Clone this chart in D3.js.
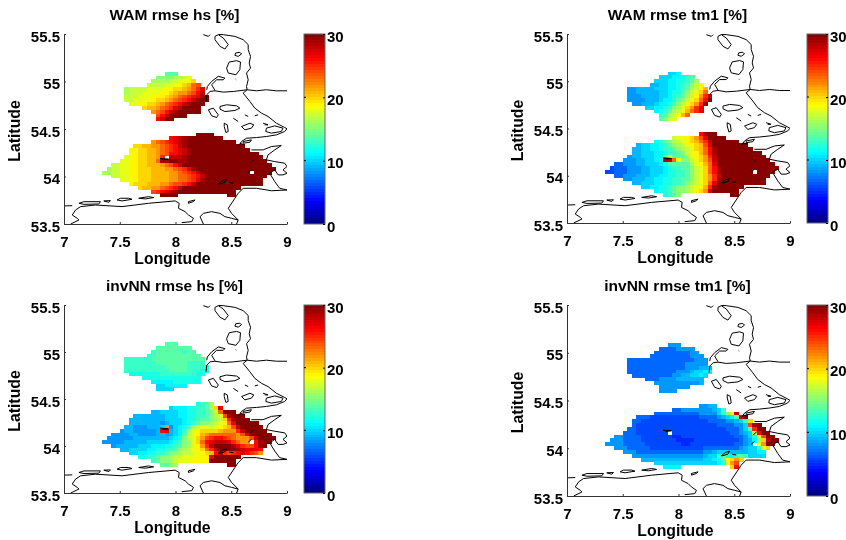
<!DOCTYPE html>
<html>
<head>
<meta charset="utf-8">
<script src="https://cdn.jsdelivr.net/npm/d3@7"></script>
<style>
  html, body { margin: 0; background: #fff; }
  svg { display: block; filter: blur(0.5px); }
  text { font-family: "Liberation Sans", Arial, sans-serif; font-weight: bold; fill: #000; }
</style>
</head>
<body>
<svg width="846" height="540"></svg>
<script>
const xTicks = [7, 7.5, 8, 8.5, 9];
const yTicks = [53.5, 54, 54.5, 55, 55.5];
const barTicks = [0, 10, 20, 30];

// grid of the wave model, degrees
const lonStart = 7.342;
const cellDeg = 0.04;
const southTop = 54.463;
const northTop = 55.103;

// first column of each row
const southStart = [21, 15, 11, 7, 6, 6, 5, 4, 2, 1, 0, 2, 4, 6, 8, 11, 13];
const northStart = [14, 12, 11, 10, 5, 5, 5, 5, 6, 9, 11, 12, 12];

// rmse in percent
const wamHsSouth = [
  [30,30,30,30],
  [26,27,28,29,30,30,30,30,30,30,30,30],
  [22,23,24,25,26,27,28,29,30,30,30,30,30,30,30,30,30,30,30],
  [20,20,21,21,22,22,23,24,25,26,28,29,30,30,30,30,30,30,30,30,30,30,30,30,30],
  [19,19,20,20,21,21,22,23,24,25,26,27,28,29,30,30,30,30,30,30,30,30,30,30,30,30,30],
  [19,19,20,20,21,21,22,23,24,26,26,27,28,29,30,30,30,30,30,30,30,30,30,30,30,30,30,30,30],
  [18,19,19,20,20,21,21,22,25,null,28,28,28,29,30,30,30,30,30,30,30,30,30,30,30,30,30,30,30,30,30],
  [18,18,19,19,20,20,21,21,23,29,29,30,30,29,29,30,30,30,30,30,30,30,30,30,30,30,30,30,30,30,30,30,30],
  [17,17,18,18,19,19,20,20,21,21,21,22,23,24,26,28,30,30,30,30,30,30,30,30,30,30,30,30,30,30,30,30,30,30,30,30],
  [16,17,17,18,18,19,19,20,20,20,21,21,21,22,22,23,24,25,27,29,30,30,30,30,30,30,30,30,30,30,30,30,30,30,30,30,30,30],
  [16,16,17,17,18,18,19,19,20,20,20,21,21,21,21,22,22,23,24,25,26,28,30,30,30,30,30,30,30,30,30,30,30,null,30,30,30,30],
  [17,17,18,18,19,19,20,20,20,21,21,21,21,22,22,23,23,24,25,26,28,30,30,30,30,30,30,30,30,30,30,30,30,30,30],
  [18,18,19,19,20,20,20,21,21,21,21,22,22,23,23,24,25,27,29,30,30,30,30,30,30,30,30,30,30,30,30,30],
  [19,20,20,20,21,21,21,22,22,23,24,24,25,26,28,30,30,30,30,30,30,30,30,30,30,30,30,30,30,30],
  [20,21,21,22,22,23,24,25,26,28,30,30,30,30,30,30,30,30,30,30,30,30,30],
  [24,25,26,27,28,29,30,30,30,30,30,30,30,30,30,30,30,30,30],
  [30,30,30,30,null,null,null,null,null,null,null,null,null,null,null,30,30]
];
const wamHsNorth = [
  [14,14,14],
  [15,15,15,15,16,16,17,18],
  [16,16,16,16,17,17,18,18,19,20],
  [17,17,17,17,18,18,19,19,20,21,23,24],
  [16,17,17,17,17,18,18,18,18,19,19,20,20,21,22,23,25,27],
  [16,17,17,17,18,18,18,18,19,19,20,21,22,22,23,24,26,28],
  [17,17,17,18,18,18,19,19,19,20,21,22,23,24,25,26,27,29,30],
  [17,17,18,18,18,19,19,20,20,21,22,23,24,25,26,28,29,30,30],
  [18,18,19,19,20,20,21,22,23,24,25,26,28,29,30,30,30],
  [20,21,21,22,23,24,25,27,28,30,30,30,30],
  [22,23,24,26,28,29,30,30,30,30,30],
  [24,26,28,30,30,30,30],
  [26,28,30,30]
];

const wamTm1South = [
  [26,29,30,30],
  [17,18,18,19,20,22,24,27,30,30,30,30],
  [12,13,14,15,16,17,18,19,20,21,23,25,28,30,30,30,30,30,30],
  [9,10,10,11,11,12,13,14,15,16,17,18,19,20,21,24,27,30,30,30,30,30,30,30,30],
  [9,9,10,10,11,11,12,13,13,14,15,16,17,18,20,21,23,26,29,30,30,30,30,30,30,30,30],
  [9,9,10,10,10,11,11,12,13,13,14,15,17,18,19,21,23,26,29,30,30,30,30,30,30,30,30,30,30],
  [8,9,9,10,10,10,11,11,15,18,14,14,14,16,18,19,20,22,25,28,30,30,30,30,30,30,30,30,30,30,30],
  [8,8,8,9,9,10,10,11,12,28,28,23,19,15,15,17,18,20,22,24,28,30,30,30,30,30,30,30,30,30,30,30,30],
  [7,7,8,8,8,9,9,10,10,10,11,12,14,14,14,14,14,16,18,19,21,23,27,30,30,30,30,30,30,30,30,30,30,30,30,30],
  [6,7,7,7,8,8,8,9,9,10,10,10,11,12,13,13,14,14,15,17,18,20,23,26,29,30,30,30,30,30,30,30,30,30,30,30,30,30],
  [6,6,7,7,7,8,8,8,9,9,10,10,10,11,12,12,13,13,14,15,17,18,20,23,26,29,30,30,30,30,30,30,30,null,30,30,30,30],
  [7,7,8,8,8,9,9,9,10,10,11,11,12,12,13,13,14,15,17,18,20,22,25,28,30,30,30,30,30,30,30,30,30,30,30],
  [8,8,9,9,9,10,10,11,11,12,12,13,13,14,14,15,17,18,20,22,25,29,30,30,30,30,30,30,30,30,30,30],
  [9,9,10,10,10,11,11,12,12,13,13,14,15,16,17,19,20,23,27,30,30,30,30,30,30,30,30,30,30,30],
  [10,10,11,11,12,12,13,14,15,15,16,17,18,19,21,25,29,30,30,30,30,30,30],
  [11,12,12,13,14,15,15,16,17,19,20,22,27,30,30,30,30,30,30],
  [12,13,14,15,null,null,null,null,null,null,null,null,null,null,null,30,30]
];
const wamTm1North = [
  [10,10,11],
  [10,10,10,11,11,12,13,14],
  [10,10,10,11,11,12,12,13,14,16],
  [9,9,10,10,11,11,12,13,14,15,17,19],
  [8,8,9,9,9,9,10,10,10,11,11,12,13,14,16,17,19,21],
  [8,8,9,9,9,9,9,10,10,11,12,12,14,15,17,18,20,23],
  [8,8,8,9,9,9,9,10,10,11,12,13,14,16,17,19,22,25,28],
  [8,8,8,8,9,9,9,10,11,11,12,14,15,17,18,20,23,26,30],
  [8,8,9,9,9,10,11,11,12,13,15,17,18,20,22,25,29],
  [10,10,11,11,12,13,15,16,18,20,22,25,27],
  [11,12,13,14,16,17,19,21,23,25,27],
  [13,14,16,17,19,21,23],
  [14,15,17,18]
];

const nnHsSouth = [
  [12,13,14,16],
  [10,11,11,11,12,12,13,13,14,16,20,27],
  [9,9,10,10,10,10,11,11,12,12,13,13,14,15,17,23,30,30,30],
  [9,9,9,9,9,9,9,10,10,10,11,11,12,12,13,13,14,15,16,18,24,29,30,30,30],
  [9,9,9,9,9,9,9,9,10,10,10,10,11,12,12,13,14,14,15,16,17,20,25,29,30,30,30],
  [9,9,9,9,9,9,9,8,9,10,10,10,11,12,13,14,15,15,16,17,18,19,23,27,30,30,30,30,30],
  [9,9,8,8,8,9,9,9,10,22,8,10,11,12,14,16,17,18,18,17,18,19,20,21,24,28,30,30,30,30,30],
  [8,9,9,8,8,8,8,8,9,26,27,9,10,11,13,16,18,19,20,20,20,20,21,22,22,22,25,28,30,30,30,30,30],
  [8,8,8,8,9,9,8,8,8,8,9,9,8,9,10,11,14,17,18,19,21,22,23,23,23,23,23,23,22,24,27,30,30,30,30,30],
  [8,8,8,8,8,8,9,9,9,9,9,9,9,9,10,11,12,15,17,18,20,22,24,25,26,26,25,24,23,22,22,22,24,28,30,30,30,30],
  [8,8,8,8,8,9,9,9,9,9,10,10,10,10,10,11,12,13,15,16,18,20,23,26,27,28,28,28,27,25,23,22,22,null,26,29,30,30],
  [8,9,9,9,9,9,10,10,10,11,11,11,12,12,13,14,15,16,18,19,22,25,28,30,30,30,30,29,27,25,24,24,26,29,30],
  [9,9,10,10,10,10,11,11,12,12,13,13,14,15,16,17,18,19,20,23,25,28,30,30,30,30,29,28,27,27,27,26],
  [10,10,11,11,12,12,13,13,14,15,15,16,17,17,18,18,19,20,21,26,28,25,24,25,26,27,26,25,24,22],
  [12,12,13,13,14,15,15,16,17,17,18,18,18,19,19,19,27,30,30,30,30,30,30],
  [13,14,15,15,16,17,18,18,18,19,19,19,19,30,30,30,30,30,30],
  [14,14,15,16,null,null,null,null,null,null,null,null,null,null,null,30,30]
];
const nnHsNorth = [
  [14,14,14],
  [14,14,14,14,14,14,14,14],
  [13,14,14,14,14,14,14,13,14,14],
  [13,13,14,14,14,14,14,14,14,14,14,14],
  [13,13,13,13,13,13,14,14,14,14,14,14,14,14,14,14,14,14],
  [13,13,13,13,13,13,13,14,14,14,14,14,14,14,13,13,13,13],
  [13,13,13,13,13,13,13,13,13,14,14,14,14,14,13,13,13,13,12],
  [13,13,13,13,13,13,13,13,13,13,14,14,14,14,13,13,13,12,12],
  [12,12,12,12,12,12,12,13,13,13,13,13,13,13,13,12,12],
  [12,12,12,12,12,12,12,12,12,12,12,12,12],
  [11,11,11,11,11,12,12,12,12,12,12],
  [10,10,11,11,11,11,11],
  [10,10,10,10]
];

const nnTm1South = [
  [8,8,9,9],
  [7,7,8,8,8,8,8,8,8,9,10,13],
  [7,7,7,7,7,7,7,7,7,7,8,8,8,8,10,13,15,18,28],
  [7,7,7,6,6,6,6,6,6,6,6,6,6,6,7,7,7,7,8,9,10,11,14,27,30],
  [7,7,6,6,6,6,6,6,6,6,6,6,6,6,6,6,6,7,7,7,7,8,8,9,10,13,20],
  [7,6,6,6,6,6,6,6,6,6,6,6,6,6,6,6,6,6,6,7,7,7,7,8,8,10,24,29,30],
  [7,7,6,6,6,6,6,6,6,6,6,6,6,6,6,6,6,6,6,6,6,6,7,7,7,8,10,14,25,30,30],
  [7,7,7,6,6,6,6,6,6,6,null,6,6,6,6,6,6,6,6,6,6,6,6,6,7,7,8,9,10,16,26,30,30],
  [8,8,7,7,7,7,6,6,6,6,6,6,6,5,5,6,6,6,6,6,6,6,6,6,6,6,6,7,7,8,10,12,18,24,30,30],
  [8,8,8,7,7,7,7,6,6,6,6,6,6,6,6,5,5,5,5,6,6,6,6,6,6,6,6,6,6,7,8,9,11,16,20,28,30,30],
  [8,8,8,8,7,7,7,7,7,6,6,6,6,6,6,6,6,5,5,6,6,6,6,6,6,6,6,6,6,7,7,8,9,null,18,22,30,30],
  [8,8,8,7,7,7,7,7,6,6,6,6,6,6,6,6,6,6,6,6,7,7,7,7,7,7,7,7,8,9,10,10,13,18,20],
  [8,8,8,7,7,7,7,7,7,7,7,7,7,7,7,7,7,7,8,8,9,10,10,10,9,9,9,9,10,10,11,11],
  [8,8,8,8,8,8,8,8,8,8,8,8,8,8,8,8,9,10,10,13,14,12,11,13,14,13,10,10,10,10],
  [9,9,9,9,9,9,9,9,9,9,9,9,9,9,10,10,11,12,14,19,20,22,20],
  [10,10,10,10,10,10,10,10,10,10,10,10,10,10,11,13,18,22,24],
  [11,11,11,11,null,null,null,null,null,null,null,null,null,null,null,20,26]
];
const nnTm1North = [
  [8,8,8],
  [7,7,7,7,8,8,8,8],
  [7,7,7,7,7,7,7,7,8,8],
  [7,7,7,7,7,7,7,7,7,8,8,8],
  [7,7,7,7,7,7,7,7,7,7,7,7,7,7,7,8,8,8],
  [7,7,7,7,7,7,7,7,7,7,7,7,7,8,8,8,8,8],
  [7,7,7,7,7,7,7,7,7,7,7,7,7,8,8,8,9,9,9],
  [7,7,7,7,7,7,7,7,7,7,7,8,8,8,9,10,10,11,11],
  [7,7,7,7,7,7,7,7,7,8,8,9,9,10,10,11,10],
  [7,7,7,8,8,8,8,9,9,9,9,9,9],
  [8,8,8,8,8,8,8,8,8,8,9],
  [8,8,8,8,8,8,8],
  [8,8,8,8]
];

// coastline, [lon, lat]
const coastLines = [
  [[8.384,55.496],[8.428,55.493],[8.533,55.475],[8.607,55.44],[8.652,55.388],[8.652,55.335],[8.673,55.264],[8.661,55.194],[8.673,55.141],[8.637,55.089],[8.652,55.018],[8.637,54.948],[8.643,54.913],[8.726,54.902],[8.815,54.913],[8.905,54.902],[9,54.902]],
  [[8.643,54.913],[8.518,54.895],[8.428,54.888],[8.354,54.902],[8.31,54.895],[8.28,54.86],[8.274,54.79]],
  [[8.28,54.913],[8.286,54.948],[8.324,55.001],[8.384,55.054],[8.443,55.036],[8.428,55.018],[8.369,55.018],[8.324,54.966],[8.354,54.906]],
  [[8.643,54.913],[8.607,54.878],[8.667,54.79],[8.711,54.72],[8.771,54.667],[8.83,54.632],[8.905,54.561],[8.979,54.516],[9,54.502],[8.979,54.474],[8.905,54.438],[8.815,54.421],[8.726,54.41],[8.637,54.403],[8.592,54.368],[8.562,54.315]],
  [[8.681,54.28],[8.786,54.28],[8.86,54.315],[8.949,54.326],[8.89,54.28],[8.83,54.228],[8.815,54.175],[8.89,54.157],[8.979,54.14],[9,54.105],[8.964,54.07],[9,54.034],[8.964,54.017],[8.92,54.017],[8.89,54.07],[8.845,54.034],[8.89,53.946],[8.934,53.876],[9,53.858]],
  [[9,53.858],[8.86,53.85],[8.726,53.876],[8.607,53.876],[8.562,53.823],[8.533,53.771],[8.473,53.665],[8.503,53.612],[8.562,53.542],[8.548,53.5]],
  [[8.25,53.5],[8.22,53.577],[8.25,53.612],[8.324,53.63],[8.399,53.612],[8.443,53.577],[8.503,53.56],[8.562,53.542]],
  [[7,53.69],[7.074,53.693]],
  [[7.06,53.5],[7.134,53.542],[7.119,53.56],[7.074,53.595],[7.104,53.648],[7.149,53.683],[7.283,53.7],[7.521,53.683],[7.759,53.718],[7.997,53.743],[8.033,53.718],[8.027,53.665],[8.086,53.63],[8.116,53.595],[8.161,53.56],[8.146,53.525],[8.056,53.514]],
  [[8.25,55.493],[8.295,55.475],[8.31,55.493]],
  [[8.539,55.025],[8.545,55.018]],
  [[8.518,54.614],[8.562,54.579]],
  [[8.622,54.649],[8.652,54.632]],
  [[8.711,54.639],[8.741,54.649]],
  [[8.786,54.561],[8.83,54.544],[8.8,54.544]],
  [[8.577,54.35],[8.622,54.333]],
  [[8.482,53.936],[8.518,53.929]],
  [[8.652,54.041],[8.681,54.07]],
  [[8.673,54.14],[8.702,54.175]]
];
const islands = [
  [[7.134,53.718],[7.179,53.735],[7.327,53.735],[7.312,53.711],[7.179,53.707]],
  [[7.357,53.743],[7.417,53.746],[7.402,53.728]],
  [[7.476,53.753],[7.506,53.771],[7.58,53.771],[7.61,53.76],[7.521,53.743]],
  [[7.67,53.771],[7.759,53.788],[7.804,53.778],[7.729,53.764]],
  [[8.116,53.736],[8.176,53.753],[8.161,53.736],[8.116,53.718]],
  [[8.354,55.475],[8.384,55.493],[8.428,55.458],[8.473,55.388],[8.443,55.342],[8.399,55.37],[8.354,55.44]],
  [[8.539,55.3],[8.577,55.307],[8.592,55.289],[8.562,55.264],[8.533,55.275]],
  [[8.482,55.205],[8.548,55.219],[8.583,55.205],[8.577,55.124],[8.542,55.071],[8.473,55.089],[8.458,55.141]],
  [[8.399,54.737],[8.458,54.755],[8.548,54.744],[8.577,54.72],[8.533,54.695],[8.443,54.684],[8.399,54.709]],
  [[8.295,54.702],[8.339,54.72],[8.384,54.649],[8.369,54.621],[8.324,54.639]],
  [[8.437,54.561],[8.464,54.544],[8.473,54.474],[8.452,54.463],[8.437,54.526]],
  [[8.592,54.526],[8.667,54.561],[8.702,54.544],[8.681,54.509],[8.622,54.491]],
  [[8.815,54.509],[8.89,54.533],[8.964,54.509],[8.949,54.474],[8.86,54.456],[8.81,54.474]],
  [[8.607,54.368],[8.681,54.386],[8.667,54.361],[8.607,54.35]],
  [[7.863,54.19],[7.937,54.183],[7.893,54.176]],
  [[8.384,53.922],[8.423,53.957],[8.458,53.971],[8.443,53.939],[8.399,53.922]]
];

const panels = [
  { title: "WAM rmse hs [%]", south: wamHsSouth, north: wamHsNorth, left: 64, top: 34, bottom: 224 },
  { title: "WAM rmse tm1 [%]", south: wamTm1South, north: wamTm1North, left: 567, top: 34, bottom: 223 },
  { title: "invNN rmse hs [%]", south: nnHsSouth, north: nnHsNorth, left: 64, top: 305, bottom: 493 },
  { title: "invNN rmse tm1 [%]", south: nnTm1South, north: nnTm1North, left: 567, top: 305, bottom: 496 }
];

const axWidth = 223;
const svg = d3.select("svg");

// matlab jet with 64 levels
function jet(v) {
  const level = Math.min(63, Math.max(0, Math.floor(v / 30 * 64)));
  const t = (level + 0.5) / 64;
  const c = x => Math.round(255 * Math.max(0, Math.min(1, x)));
  return d3.rgb(
    c(Math.min(4 * t - 1.5, -4 * t + 4.5)),
    c(Math.min(4 * t - 0.5, -4 * t + 3.5)),
    c(Math.min(4 * t + 0.5, -4 * t + 2.5))
  ).formatRgb();
}

panels.forEach((p, idx) => {
  const x = d3.scaleLinear().domain([7, 9]).range([p.left, p.left + axWidth]);
  const y = d3.scaleLinear().domain([53.5, 55.5]).range([p.bottom, p.top]);
  const g = svg.append("g");

  // Flatten the two sea areas to cells
  const cells = [];
  [[p.south, southStart, southTop], [p.north, northStart, northTop]].forEach(([rows, starts, top]) => {
    rows.forEach((row, r) => {
      row.forEach((v, i) => {
        if (v !== null) cells.push({ col: starts[r] + i, latTop: top - r * cellDeg, v });
      });
    });
  });

  g.append("g")
    .attr("shape-rendering", "crispEdges")
    .selectAll("rect")
    .data(cells)
    .enter()
    .append("rect")
    .attr("x", d => x(lonStart + d.col * cellDeg))
    .attr("y", d => y(d.latTop))
    .attr("width", x(7 + cellDeg) - x(7) + 0.3)
    .attr("height", y(55.5 - cellDeg) - y(55.5) + 0.3)
    .attr("fill", d => jet(d.v));

  // Coast goes over the field
  const clipId = "clip" + idx;
  g.append("clipPath").attr("id", clipId)
    .append("rect")
    .attr("x", p.left).attr("y", p.top)
    .attr("width", axWidth).attr("height", p.bottom - p.top);

  const coast = g.append("g")
    .attr("clip-path", `url(#${clipId})`)
    .attr("fill", "none")
    .attr("stroke", "#000")
    .attr("stroke-width", 1);
  const line = d3.line().x(d => x(d[0])).y(d => y(d[1]));
  const closed = d3.line().x(d => x(d[0])).y(d => y(d[1])).curve(d3.curveLinearClosed);
  coast.selectAll("path.line").data(coastLines).enter().append("path").attr("class", "line").attr("d", line);
  coast.selectAll("path.island").data(islands).enter().append("path").attr("class", "island").attr("d", closed);

  // Axes, only left and bottom lines
  const xAxis = g.append("g")
    .attr("transform", `translate(0,${p.bottom})`)
    .call(d3.axisBottom(x).tickValues(xTicks).tickSizeInner(-2).tickSizeOuter(0).tickFormat(d => d));
  const yAxis = g.append("g")
    .attr("transform", `translate(${p.left},0)`)
    .call(d3.axisLeft(y).tickValues(yTicks).tickSizeInner(-2).tickSizeOuter(0).tickFormat(d => d));
  [xAxis, yAxis].forEach(a => {
    a.selectAll("path, line").attr("stroke", "#333");
    a.selectAll("text").attr("font-size", 15).attr("font-family", null);
  });
  xAxis.selectAll("text").attr("y", 12).attr("dy", "0.71em");
  yAxis.selectAll("text").attr("x", -4).attr("dy", "0.47em");

  const cx = p.left + axWidth / 2;
  g.append("text").attr("x", cx - 1).attr("y", p.top - 14)
    .attr("text-anchor", "middle").attr("font-size", 15.5).text(p.title);
  g.append("text").attr("x", cx - 3).attr("y", p.bottom + 40)
    .attr("text-anchor", "middle").attr("font-size", 15.8).text("Longitude");
  g.append("text")
    .attr("transform", `translate(${p.left - 44},${(p.top + p.bottom) / 2 + 2}) rotate(-90)`)
    .attr("text-anchor", "middle").attr("font-size", 15.8).text("Latitude");

  // Colorbar
  const barLeft = p.left + 240;
  const barW = 21;
  const c = d3.scaleLinear().domain([0, 30]).range([p.bottom, p.top]);
  const levels = d3.range(64).map(i => i * 30 / 64);
  g.append("g")
    .attr("shape-rendering", "crispEdges")
    .selectAll("rect")
    .data(levels)
    .enter()
    .append("rect")
    .attr("x", barLeft)
    .attr("y", d => c(d + 30 / 64))
    .attr("width", barW)
    .attr("height", c(0) - c(30 / 64) + 0.3)
    .attr("fill", d => jet(d + 0.01));
  g.append("rect")
    .attr("x", barLeft).attr("y", p.top)
    .attr("width", barW).attr("height", p.bottom - p.top)
    .attr("fill", "none").attr("stroke", "#666");
  const barAxis = g.append("g")
    .attr("transform", `translate(${barLeft + barW},0)`)
    .call(d3.axisRight(c).tickValues(barTicks).tickSizeInner(-2).tickSizeOuter(0).tickFormat(d => d));
  barAxis.select("path").remove();
  barAxis.selectAll("line").attr("stroke", "#000");
  barAxis.selectAll("text").attr("x", 2).attr("dy", "0.47em").attr("font-size", 15).attr("font-family", null);
  g.append("g").selectAll("line")
    .data(barTicks.slice(1, 3))
    .enter()
    .append("line")
    .attr("x1", barLeft).attr("x2", barLeft + 2)
    .attr("y1", d => c(d)).attr("y2", d => c(d))
    .attr("stroke", "#000");
});
</script>
</body>
</html>
